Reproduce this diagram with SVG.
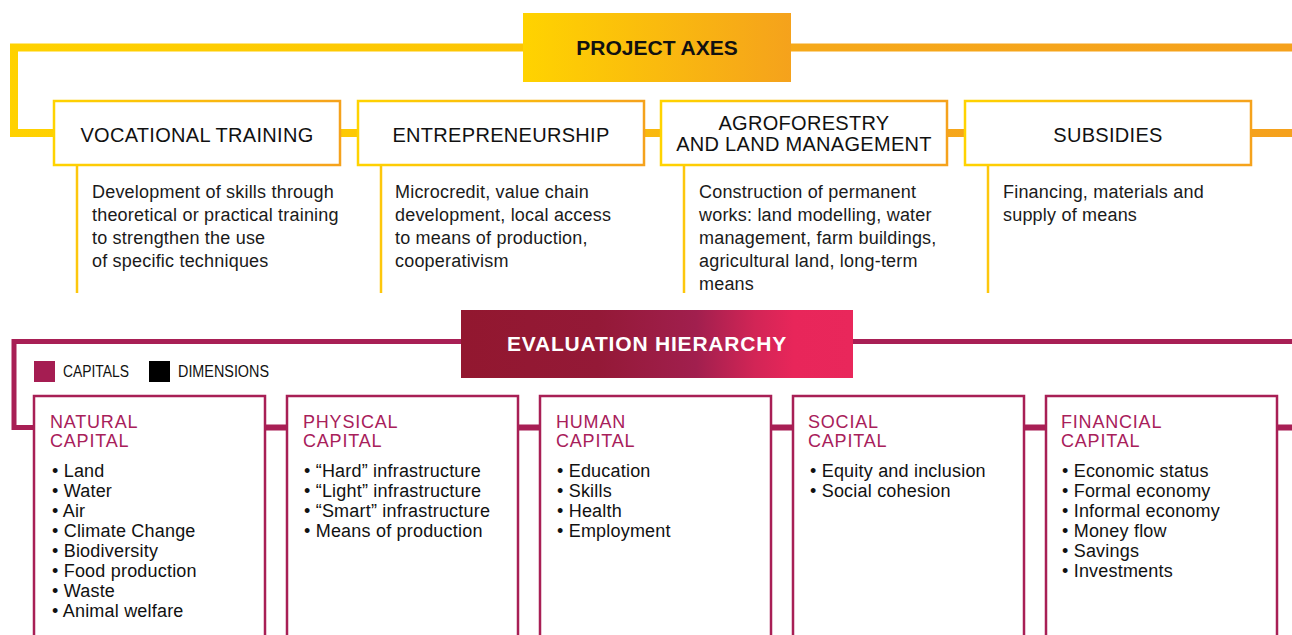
<svg xmlns="http://www.w3.org/2000/svg" width="1292" height="635" viewBox="0 0 1292 635">
<defs>
<linearGradient id="gLine" gradientUnits="userSpaceOnUse" x1="0" y1="0" x2="1292" y2="0">
<stop offset="0" stop-color="#FFD200"/><stop offset="0.42" stop-color="#FCC405"/><stop offset="0.62" stop-color="#F6A91A"/><stop offset="1" stop-color="#F5A11C"/>
</linearGradient>
<linearGradient id="gBox" x1="0" y1="0" x2="1" y2="0">
<stop offset="0" stop-color="#FFD300"/><stop offset="1" stop-color="#F5A21C"/>
</linearGradient>
<linearGradient id="gEval" x1="0" y1="0" x2="1" y2="0">
<stop offset="0" stop-color="#92172F"/><stop offset="0.35" stop-color="#941937"/><stop offset="0.6" stop-color="#A11F4E"/><stop offset="0.75" stop-color="#D22556"/><stop offset="0.85" stop-color="#E8265A"/><stop offset="1" stop-color="#E9275B"/>
</linearGradient>
<style>
.ax{fill:#fff;stroke:url(#gBox);stroke-width:2.5}
.axt{font-family:"Liberation Sans",Arial,sans-serif;font-size:20px;letter-spacing:0.3px;fill:#111;text-anchor:middle}
.desc{font-family:"Liberation Sans",Arial,sans-serif;font-size:18px;letter-spacing:0.2px;fill:#1a1a1a}
.vl{stroke:#FDC70C;stroke-width:2.5;fill:none}
.cap{fill:#fff;stroke:#A81F55;stroke-width:2.5}
.capt{font-family:"Liberation Sans",Arial,sans-serif;font-size:18px;letter-spacing:0.8px;fill:#A8205A}
.item{font-family:"Liberation Sans",Arial,sans-serif;font-size:18px;letter-spacing:0.2px;fill:#111}
.leg{font-family:"Liberation Sans",Arial,sans-serif;font-size:16px;fill:#111}
.head{font-family:"Liberation Sans",Arial,sans-serif;font-size:21px;font-weight:bold}
</style>
</defs>
<rect width="1292" height="635" fill="#fff"/>

<g id="connectors">
<path d="M1292 47.5H14V133H1292" fill="none" stroke="url(#gLine)" stroke-width="8"/>
<path d="M1292 341.5H14V427.5H1292" fill="none" stroke="#A81F55" stroke-width="5"/>
<line x1="260" y1="427.5" x2="1292" y2="427.5" stroke="#A81F55" stroke-width="6"/>
</g>

<g id="project-axes">
<rect x="523" y="13" width="268" height="69" fill="url(#gBox)"/>
<text class="head" x="657" y="55" text-anchor="middle" fill="#111">PROJECT AXES</text>
</g>

<g id="vocational-training">
<rect class="ax" x="54" y="101" width="286" height="64"/>
<text class="axt" x="197" y="142">VOCATIONAL TRAINING</text>
<line class="vl" x1="77" y1="166" x2="77" y2="293"/>
<text class="desc" x="92"><tspan x="92" y="198">Development of skills through</tspan><tspan x="92" y="221">theoretical or practical training</tspan><tspan x="92" y="244">to strengthen the use</tspan><tspan x="92" y="267">of specific techniques</tspan></text>
</g>

<g id="entrepreneurship">
<rect class="ax" x="358" y="101" width="286" height="64"/>
<text class="axt" x="501" y="142">ENTREPRENEURSHIP</text>
<line class="vl" x1="381" y1="166" x2="381" y2="293"/>
<text class="desc" x="395"><tspan x="395" y="198">Microcredit, value chain</tspan><tspan x="395" y="221">development, local access</tspan><tspan x="395" y="244">to means of production,</tspan><tspan x="395" y="267">cooperativism</tspan></text>
</g>

<g id="agroforestry">
<rect class="ax" x="661" y="101" width="286" height="64"/>
<text class="axt" x="804" y="130">AGROFORESTRY</text>
<text class="axt" x="804" y="151">AND LAND MANAGEMENT</text>
<line class="vl" x1="684" y1="166" x2="684" y2="293"/>
<text class="desc" x="699"><tspan x="699" y="198">Construction of permanent</tspan><tspan x="699" y="221">works: land modelling, water</tspan><tspan x="699" y="244">management, farm buildings,</tspan><tspan x="699" y="267">agricultural land, long-term</tspan><tspan x="699" y="290">means</tspan></text>
</g>

<g id="subsidies">
<rect class="ax" x="965" y="101" width="286" height="64"/>
<text class="axt" x="1108" y="142">SUBSIDIES</text>
<line class="vl" x1="988" y1="166" x2="988" y2="293"/>
<text class="desc" x="1003"><tspan x="1003" y="198">Financing, materials and</tspan><tspan x="1003" y="221">supply of means</tspan></text>
</g>

<g id="evaluation-hierarchy">
<rect x="461" y="310" width="392" height="68" fill="url(#gEval)"/>
<text class="head" x="647" y="351" text-anchor="middle" fill="#fff" letter-spacing="0.8">EVALUATION HIERARCHY</text>
</g>

<g id="legend">
<rect x="34" y="361" width="21" height="21" fill="#A51D52"/>
<text class="leg" x="63" y="377" textLength="66" lengthAdjust="spacingAndGlyphs">CAPITALS</text>
<rect x="149" y="361" width="21" height="21" fill="#000"/>
<text class="leg" x="178" y="377" textLength="91" lengthAdjust="spacingAndGlyphs">DIMENSIONS</text>
</g>

<g id="natural-capital">
<rect class="cap" x="34" y="396" width="231" height="260"/>
<text class="capt" x="50" y="428">NATURAL</text>
<text class="capt" x="50" y="447">CAPITAL</text>
<text class="item"><tspan x="52" y="477">• Land</tspan><tspan x="52" y="497">• Water</tspan><tspan x="52" y="517">• Air</tspan><tspan x="52" y="537">• Climate Change</tspan><tspan x="52" y="557">• Biodiversity</tspan><tspan x="52" y="577">• Food production</tspan><tspan x="52" y="597">• Waste</tspan><tspan x="52" y="617">• Animal welfare</tspan></text>
</g>

<g id="physical-capital">
<rect class="cap" x="287" y="396" width="231" height="260"/>
<text class="capt" x="303" y="428">PHYSICAL</text>
<text class="capt" x="303" y="447">CAPITAL</text>
<text class="item"><tspan x="304" y="477">• “Hard” infrastructure</tspan><tspan x="304" y="497">• “Light” infrastructure</tspan><tspan x="304" y="517">• “Smart” infrastructure</tspan><tspan x="304" y="537">• Means of production</tspan></text>
</g>

<g id="human-capital">
<rect class="cap" x="540" y="396" width="231" height="260"/>
<text class="capt" x="556" y="428">HUMAN</text>
<text class="capt" x="556" y="447">CAPITAL</text>
<text class="item"><tspan x="557" y="477">• Education</tspan><tspan x="557" y="497">• Skills</tspan><tspan x="557" y="517">• Health</tspan><tspan x="557" y="537">• Employment</tspan></text>
</g>

<g id="social-capital">
<rect class="cap" x="793" y="396" width="231" height="260"/>
<text class="capt" x="808" y="428">SOCIAL</text>
<text class="capt" x="808" y="447">CAPITAL</text>
<text class="item"><tspan x="810" y="477">• Equity and inclusion</tspan><tspan x="810" y="497">• Social cohesion</tspan></text>
</g>

<g id="financial-capital">
<rect class="cap" x="1046" y="396" width="231" height="260"/>
<text class="capt" x="1061" y="428">FINANCIAL</text>
<text class="capt" x="1061" y="447">CAPITAL</text>
<text class="item"><tspan x="1062" y="477">• Economic status</tspan><tspan x="1062" y="497">• Formal economy</tspan><tspan x="1062" y="517">• Informal economy</tspan><tspan x="1062" y="537">• Money flow</tspan><tspan x="1062" y="557">• Savings</tspan><tspan x="1062" y="577">• Investments</tspan></text>
</g>
</svg>
